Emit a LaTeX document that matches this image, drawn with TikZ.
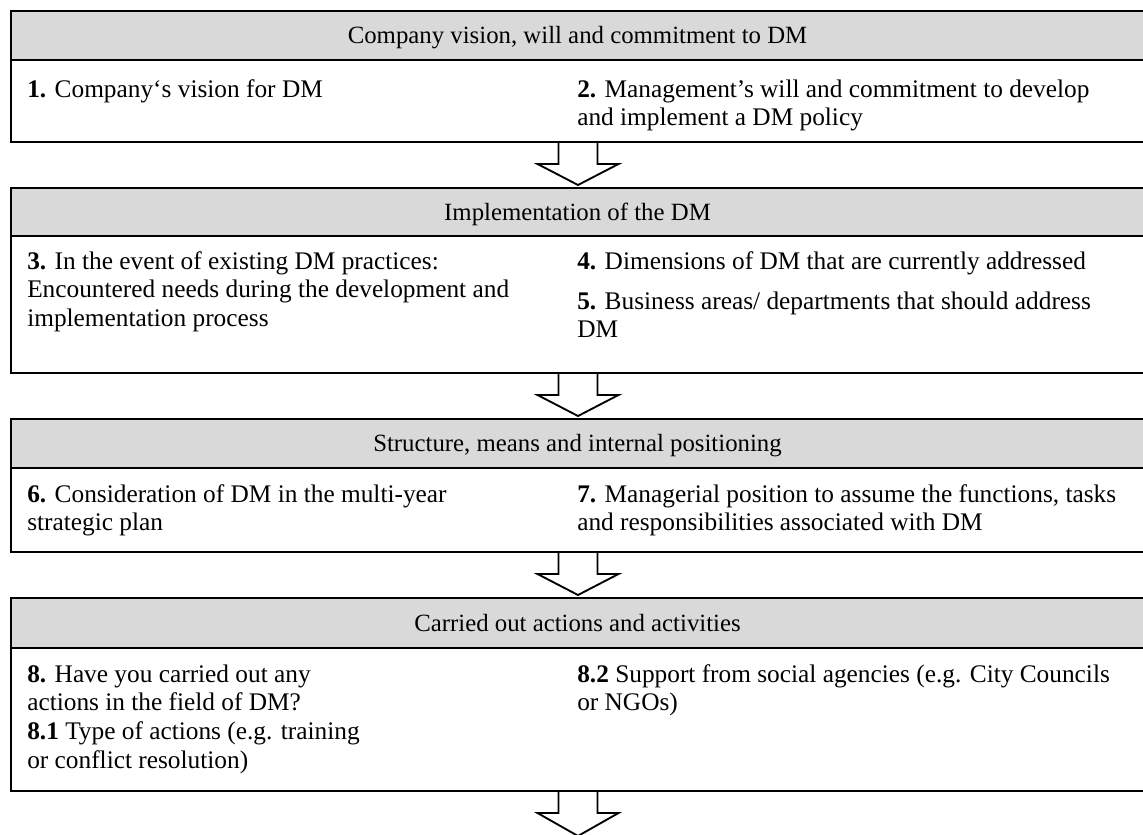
\documentclass[tikz,border=0pt]{standalone}
\usepackage{fontspec}
\setmainfont{Liberation Serif}
\usetikzlibrary{calc,fit}
\definecolor{hdrgray}{HTML}{D9D9D9}
\tikzset{
  panel/.style={draw=black, line width=1.5pt, inner sep=0pt},
  hdrbar/.style={draw=black, fill=hdrgray, line width=1.5pt, inner sep=0pt},
  hdrtext/.style={anchor=base, inner sep=0pt, font=\fontsize{18.6}{21.6}\selectfont},
  bodytext/.style={anchor=base west, inner sep=0pt, font=\fontsize{19}{21.6}\selectfont},
  blockarrow/.style={draw=black, fill=white, line width=1.4pt, line join=miter},
}
\newcommand{\para}[1]{\parbox[t]{560pt}{\raggedright #1}}
\newcommand{\blockdown}[2]{%
  \draw[blockarrow] ($(#1.south)+(-19.5,0)$) -- ++(0,21) -- ++(-21,0)
    -- ($(#2)+(0,-2)$) -- ($(#1.south)+(40.5,21)$) -- ++(-21,0)
    -- ($(#1.south)+(19.5,0)$);}
\begin{document}
\begin{tikzpicture}[x=0.75pt,y=-0.75pt]
\useasboundingbox (0,0) rectangle (1143,835);
\fill[white] (0,0) rectangle (1143,835);

% panel 1
\node[panel, fit={(11,11) (1145,142)}] (b1) {};
\node[hdrbar, fit={(11,11) (1145,60)}] (h1) {};
\node[hdrtext] (t1) at (577.5,43.5) {Company vision, will and commitment to DM};
\node[bodytext] (p1) at (27,97) {\para{\textbf{1.} Company‘s vision for DM}};
\node[bodytext] (p2) at (577,97) {\para{\textbf{2.} Management’s will and commitment to develop\\ and implement a DM policy}};

% panel 2
\node[panel, fit={(11,188) (1145,373)}] (b2) {};
\node[hdrbar, fit={(11,188) (1145,236)}] (h2) {};
\node[hdrtext] (t2) at (577.5,220) {Implementation of the DM};
\node[bodytext] (p3) at (27,269) {\para{\textbf{3.} In the event of existing DM practices:\\ Encountered needs during the development and\\ implementation process}};
\node[bodytext] (p4) at (577,269) {\para{\textbf{4.} Dimensions of DM that are currently addressed}};
\node[bodytext] (p5) at (577,309) {\para{\textbf{5.} Business areas/ departments that should address\\ DM}};

% panel 3
\node[panel, fit={(11,419) (1145,552)}] (b3) {};
\node[hdrbar, fit={(11,419) (1145,468)}] (h3) {};
\node[hdrtext] (t3) at (577.5,451.5) {Structure, means and internal positioning};
\node[bodytext] (p6) at (27,502) {\para{\textbf{6.} Consideration of DM in the multi-year\\ strategic plan}};
\node[bodytext] (p7) at (577,502) {\para{\textbf{7.} Managerial position to assume the functions, tasks\\ and responsibilities associated with DM}};

% panel 4
\node[panel, fit={(11,598) (1145,791)}] (b4) {};
\node[hdrbar, fit={(11,598) (1145,648)}] (h4) {};
\node[hdrtext] (t4) at (577.5,631) {Carried out actions and activities};
\node[bodytext] (p8) at (27,682) {\para{\textbf{8.} Have you carried out any\\ actions in the field of DM?\\ \textbf{8.1} Type of actions (e.g. training\\ or conflict resolution)}};
\node[bodytext] (p9) at (577,682) {\para{\textbf{8.2} Support from social agencies (e.g. City Councils\\ or NGOs)}};

\coordinate (end) at (578,838);

% block arrows between panels
\blockdown{b1}{b2.north}
\blockdown{b2}{b3.north}
\blockdown{b3}{b4.north}
\blockdown{b4}{end}
\end{tikzpicture}
\end{document}
